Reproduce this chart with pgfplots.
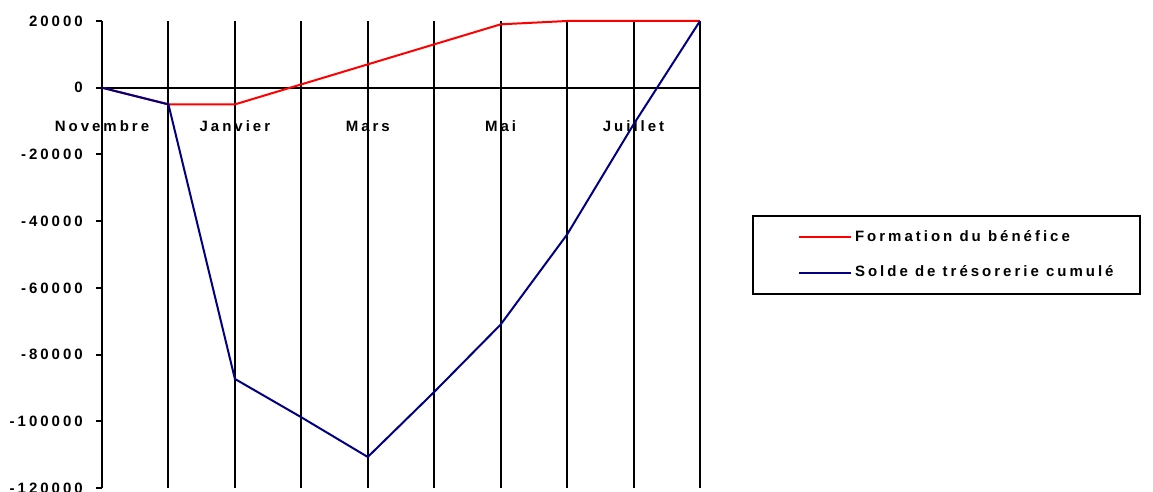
\documentclass[border=0pt]{standalone}
\usepackage{fontspec}
\setmainfont[LetterSpace=20]{Liberation Sans Bold}
\usepackage{pgfplots}
\pgfplotsset{compat=1.18}
\definecolor{benef}{HTML}{FF0000}
\definecolor{solde}{HTML}{000080}

\begin{document}
\fontsize{11.25pt}{13pt}\selectfont
\begin{tikzpicture}
\begin{axis}[
  name=ax,
  scale only axis,width=448.5pt,height=350.25pt,
  xmin=0,xmax=9,ymin=-120000,ymax=20000,
  axis y line=left,axis x line=middle,
  hide obscured x ticks=false,hide obscured y ticks=false,
  axis line style={-,line width=1.5pt,black},
  xtick={0,...,9},
  xticklabels={Novembre,,Janvier,,Mars,,Mai,,Juillet,},
  xtick style={draw=none},
  xticklabel style={anchor=base,yshift=-28.5pt,font=\fontsize{11.25pt}{13pt}\selectfont},
  scaled y ticks=false,
  ytick={-120000,-100000,-80000,-60000,-40000,-20000,0,20000},
  yticklabels={-120000,-100000,-80000,-60000,-40000,-20000,0,20000},
  tick align=outside,major tick length=4.5pt,
  ytick style={line width=1.5pt,black},
  yticklabel style={anchor=east,inner sep=0pt,xshift=-9.75pt,font=\fontsize{11.25pt}{13pt}\selectfont},
  xmajorgrids=true,grid style={black,line width=1.5pt},
  legend style={at={(axis description cs:1.087,0.5846)},anchor=north west,
    draw=black,line width=1.5pt,inner xsep=18pt,inner ysep=9pt,row sep=12.5pt,
    font=\fontsize{11.25pt}{13pt}\selectfont},
  legend cell align=left,
  legend image code/.code={\path (0pt,0pt); \draw[#1,line width=1.5pt] (16pt,0pt) -- (55pt,0pt);},
  clip=false]
\addplot[benef,line width=1.5pt] coordinates {
  (0,0) (1,-5000) (2,-5000) (3,1000) (4,7000) (5,13000)
  (6,19000) (7,20000) (8,20000) (9,20000)};
\addplot[solde,line width=1.5pt] coordinates {
  (0,0) (1,-5000) (2,-87300) (3,-98800) (4,-110700) (5,-91200)
  (6,-71000) (7,-44000) (8,-11000) (9,20000)};
\legend{Formation du bénéfice,Solde de trésorerie cumulé}
\end{axis}
\pgfresetboundingbox
\path[use as bounding box] ([shift={(-76.5pt,-3pt)}]ax.south west) rectangle ([shift={(788.25pt,15.75pt)}]ax.north west);
\end{tikzpicture}
\end{document}
